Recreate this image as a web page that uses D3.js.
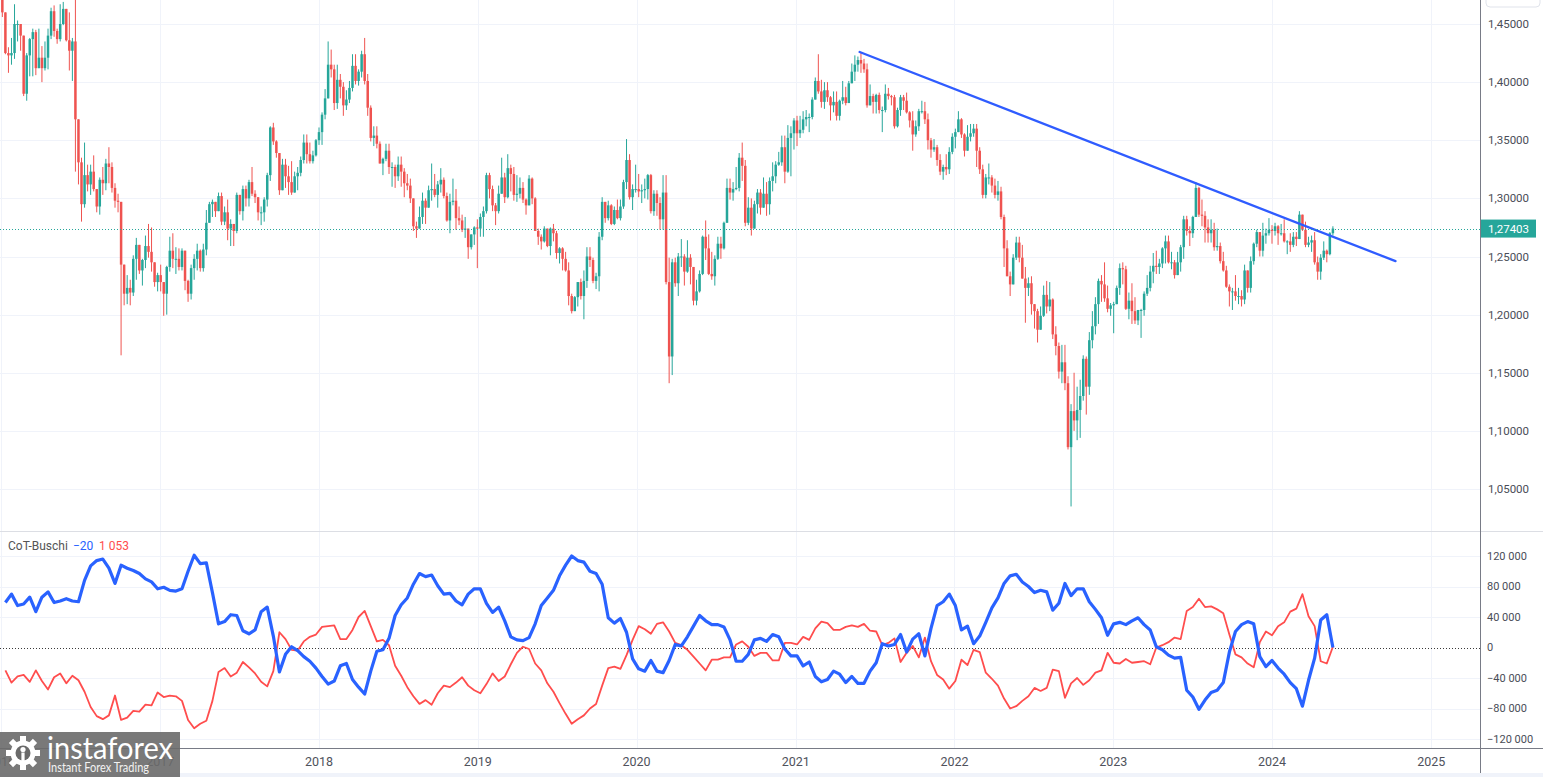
<!DOCTYPE html>
<html>
<head>
<meta charset="utf-8">
<script src="https://cdn.jsdelivr.net/npm/d3@7"></script>
<style>
  html, body { margin: 0; padding: 0; background: #ffffff; }
  svg { display: block; font-family: Roboto, "Liberation Sans", sans-serif; }
</style>
</head>
<body>
<div id="chart"></div>
<script>
// GBP/USD weekly candles, one entry per week starting Monday 2016-01-04.
// open of a week = close of the week before (first open given separately)
const weekStart = "2016-01-04";
const firstOpen = 1.474;

const closes = [
  // 2016
  1.460,1.425,1.423,1.425,1.450,1.450,1.440,1.390,1.423,1.437,1.443,1.412,1.421,1.412,1.421,1.440,1.461,1.444,1.437,1.450,1.463,1.436,1.427,1.435,1.368,1.331,1.295,1.320,1.312,1.323,1.308,1.293,1.316,1.313,1.330,1.327,1.309,1.298,1.297,1.243,1.218,1.223,1.219,1.248,1.260,1.238,1.247,1.259,1.254,1.245,1.228,1.234,
  // 2017
  1.228,1.218,1.241,1.255,1.248,1.248,1.241,1.255,1.229,1.218,1.240,1.248,1.255,1.240,1.256,1.279,1.295,1.297,1.289,1.302,1.280,1.288,1.274,1.278,1.272,1.303,1.289,1.308,1.300,1.314,1.304,1.301,1.288,1.288,1.299,1.320,1.361,1.349,1.339,1.307,1.329,1.319,1.314,1.305,1.319,1.322,1.333,1.348,1.338,1.332,1.337,1.350,
  // 2018
  1.357,1.372,1.386,1.415,1.411,1.382,1.402,1.396,1.380,1.385,1.395,1.414,1.401,1.409,1.424,1.401,1.378,1.352,1.354,1.347,1.330,1.334,1.341,1.327,1.327,1.319,1.329,1.323,1.313,1.311,1.300,1.276,1.274,1.284,1.298,1.292,1.307,1.308,1.303,1.312,1.316,1.302,1.281,1.297,1.298,1.283,1.281,1.273,1.274,1.258,1.269,1.275,1.274,
  // 2019
  1.284,1.289,1.320,1.308,1.294,1.289,1.304,1.318,1.301,1.326,1.321,1.303,1.304,1.309,1.299,1.294,1.317,1.300,1.272,1.267,1.263,1.274,1.259,1.274,1.270,1.253,1.257,1.248,1.238,1.216,1.203,1.215,1.228,1.216,1.229,1.250,1.247,1.229,1.233,1.267,1.297,1.283,1.294,1.278,1.290,1.283,1.293,1.314,1.333,1.301,1.308,1.308,
  // 2020
  1.306,1.307,1.308,1.320,1.289,1.304,1.296,1.282,1.305,1.228,1.164,1.245,1.227,1.250,1.250,1.237,1.249,1.241,1.212,1.220,1.235,1.267,1.257,1.235,1.233,1.248,1.261,1.257,1.279,1.309,1.305,1.308,1.309,1.335,1.328,1.279,1.292,1.274,1.295,1.305,1.292,1.304,1.295,1.315,1.319,1.329,1.331,1.344,1.323,1.352,1.356,1.367,
  // 2021
  1.356,1.359,1.368,1.370,1.370,1.385,1.401,1.392,1.383,1.393,1.387,1.380,1.383,1.371,1.384,1.387,1.382,1.399,1.409,1.415,1.419,1.416,1.411,1.380,1.388,1.383,1.389,1.376,1.376,1.390,1.388,1.387,1.362,1.376,1.387,1.384,1.374,1.367,1.355,1.362,1.375,1.375,1.368,1.350,1.342,1.344,1.333,1.323,1.327,1.325,1.340,1.353,
  // 2022
  1.357,1.368,1.355,1.341,1.353,1.356,1.360,1.341,1.325,1.303,1.318,1.318,1.311,1.303,1.306,1.284,1.257,1.233,1.226,1.249,1.262,1.249,1.231,1.223,1.227,1.209,1.203,1.187,1.199,1.217,1.207,1.213,1.183,1.173,1.151,1.159,1.141,1.086,1.117,1.109,1.118,1.130,1.162,1.138,1.178,1.190,1.209,1.229,1.226,1.214,1.205,1.208,
  // 2023
  1.209,1.223,1.240,1.239,1.205,1.212,1.203,1.195,1.204,1.204,1.218,1.223,1.237,1.242,1.241,1.244,1.257,1.263,1.245,1.245,1.234,1.245,1.258,1.282,1.272,1.270,1.284,1.309,1.286,1.285,1.275,1.270,1.273,1.258,1.259,1.246,1.238,1.224,1.220,1.220,1.216,1.216,1.213,1.238,1.223,1.246,1.261,1.271,1.255,1.268,1.270,1.273,
  // 2024
  1.272,1.276,1.270,1.270,1.263,1.263,1.260,1.267,1.265,1.286,1.273,1.260,1.262,1.264,1.245,1.237,1.249,1.255,1.252,1.270,1.27403
];

const highs = [
  1.475,1.453,1.430,1.438,1.467,1.453,1.445,1.440,1.425,1.438,1.446,1.445,1.446,1.431,1.435,1.446,1.464,1.466,1.446,1.467,1.469,1.463,1.460,1.438,1.502,1.353,1.335,1.348,1.329,1.329,1.337,1.308,1.318,1.327,1.334,1.344,1.331,1.313,1.304,1.297,1.239,1.234,1.230,1.251,1.266,1.259,1.248,1.268,1.278,1.275,1.243,1.236,
  1.243,1.225,1.242,1.267,1.270,1.258,1.257,1.257,1.255,1.230,1.243,1.252,1.261,1.256,1.261,1.290,1.297,1.299,1.297,1.305,1.305,1.293,1.299,1.282,1.276,1.305,1.303,1.311,1.311,1.316,1.327,1.307,1.300,1.293,1.301,1.322,1.362,1.365,1.350,1.338,1.334,1.334,1.328,1.332,1.323,1.327,1.336,1.355,1.355,1.348,1.341,1.351,
  1.361,1.374,1.394,1.435,1.428,1.415,1.415,1.407,1.400,1.393,1.401,1.424,1.424,1.411,1.427,1.438,1.407,1.380,1.362,1.362,1.349,1.335,1.347,1.347,1.331,1.329,1.336,1.336,1.326,1.321,1.317,1.300,1.280,1.293,1.305,1.300,1.311,1.330,1.321,1.315,1.326,1.318,1.305,1.304,1.317,1.308,1.293,1.286,1.284,1.267,1.269,1.276,1.282,
  1.287,1.293,1.322,1.322,1.311,1.296,1.311,1.335,1.322,1.338,1.329,1.327,1.320,1.318,1.314,1.300,1.320,1.318,1.301,1.274,1.269,1.276,1.274,1.275,1.278,1.272,1.258,1.258,1.254,1.245,1.218,1.216,1.228,1.231,1.238,1.258,1.258,1.249,1.236,1.271,1.301,1.297,1.298,1.295,1.293,1.299,1.299,1.316,1.351,1.338,1.312,1.329,
  1.321,1.312,1.317,1.321,1.321,1.307,1.307,1.301,1.320,1.320,1.249,1.248,1.249,1.253,1.265,1.252,1.264,1.252,1.236,1.230,1.238,1.268,1.281,1.269,1.254,1.251,1.267,1.267,1.280,1.317,1.317,1.314,1.327,1.339,1.348,1.333,1.301,1.300,1.298,1.308,1.308,1.318,1.314,1.318,1.331,1.332,1.340,1.354,1.354,1.363,1.362,1.369,
  1.371,1.371,1.375,1.376,1.373,1.387,1.404,1.424,1.402,1.400,1.400,1.388,1.392,1.392,1.385,1.401,1.396,1.401,1.416,1.423,1.422,1.425,1.420,1.416,1.398,1.390,1.390,1.391,1.379,1.398,1.395,1.389,1.389,1.378,1.389,1.389,1.391,1.375,1.375,1.367,1.377,1.384,1.383,1.373,1.352,1.351,1.346,1.338,1.329,1.338,1.344,1.356,
  1.360,1.375,1.369,1.356,1.363,1.364,1.364,1.364,1.344,1.329,1.321,1.330,1.320,1.317,1.315,1.310,1.286,1.264,1.237,1.252,1.267,1.267,1.260,1.241,1.232,1.233,1.208,1.205,1.207,1.225,1.229,1.228,1.214,1.190,1.176,1.174,1.174,1.147,1.123,1.150,1.138,1.144,1.165,1.164,1.185,1.203,1.215,1.231,1.234,1.245,1.225,1.210,
  1.211,1.225,1.244,1.245,1.242,1.219,1.227,1.215,1.204,1.205,1.220,1.234,1.242,1.253,1.255,1.248,1.258,1.268,1.268,1.254,1.247,1.254,1.260,1.285,1.285,1.276,1.285,1.314,1.310,1.299,1.289,1.282,1.282,1.279,1.274,1.262,1.254,1.242,1.226,1.223,1.234,1.223,1.221,1.243,1.236,1.250,1.262,1.273,1.264,1.279,1.274,1.283,
  1.277,1.279,1.277,1.278,1.282,1.264,1.270,1.271,1.271,1.289,1.284,1.280,1.267,1.268,1.271,1.250,1.252,1.263,1.256,1.271,1.276
];

const lows = [
  1.456,1.424,1.408,1.415,1.420,1.435,1.427,1.388,1.384,1.405,1.405,1.406,1.412,1.400,1.410,1.411,1.437,1.439,1.433,1.435,1.449,1.435,1.410,1.401,1.323,1.312,1.280,1.292,1.306,1.303,1.306,1.288,1.286,1.303,1.307,1.313,1.305,1.292,1.288,1.165,1.208,1.209,1.208,1.216,1.230,1.235,1.225,1.240,1.249,1.237,1.224,1.220,
  1.220,1.199,1.200,1.237,1.240,1.235,1.238,1.238,1.221,1.211,1.213,1.230,1.238,1.237,1.237,1.251,1.279,1.284,1.284,1.289,1.277,1.277,1.264,1.259,1.259,1.270,1.286,1.281,1.293,1.293,1.302,1.296,1.281,1.277,1.280,1.293,1.315,1.346,1.335,1.303,1.312,1.309,1.303,1.303,1.305,1.307,1.319,1.330,1.330,1.330,1.330,1.336,
  1.346,1.346,1.368,1.388,1.404,1.376,1.377,1.386,1.371,1.376,1.382,1.392,1.398,1.397,1.404,1.398,1.371,1.349,1.345,1.343,1.330,1.320,1.332,1.321,1.310,1.309,1.315,1.310,1.301,1.307,1.296,1.272,1.266,1.274,1.278,1.278,1.292,1.298,1.301,1.292,1.305,1.300,1.280,1.270,1.294,1.273,1.277,1.271,1.266,1.248,1.256,1.260,1.240,
  1.267,1.267,1.287,1.300,1.289,1.277,1.287,1.305,1.296,1.300,1.306,1.298,1.297,1.300,1.296,1.286,1.297,1.295,1.272,1.260,1.256,1.262,1.258,1.251,1.263,1.248,1.244,1.238,1.237,1.208,1.201,1.203,1.207,1.213,1.196,1.223,1.241,1.227,1.222,1.220,1.264,1.279,1.281,1.277,1.277,1.282,1.281,1.291,1.308,1.299,1.290,1.305,
  1.301,1.296,1.300,1.299,1.287,1.285,1.285,1.273,1.273,1.226,1.141,1.148,1.224,1.216,1.241,1.225,1.236,1.226,1.208,1.208,1.219,1.234,1.247,1.234,1.230,1.225,1.247,1.248,1.256,1.279,1.299,1.298,1.307,1.306,1.315,1.276,1.277,1.268,1.275,1.287,1.286,1.292,1.285,1.286,1.306,1.313,1.328,1.328,1.313,1.322,1.319,1.342,
  1.345,1.352,1.356,1.362,1.357,1.368,1.385,1.390,1.378,1.377,1.383,1.367,1.374,1.367,1.367,1.381,1.380,1.382,1.399,1.401,1.409,1.408,1.408,1.378,1.380,1.373,1.373,1.373,1.357,1.374,1.385,1.380,1.360,1.361,1.371,1.376,1.373,1.361,1.341,1.353,1.358,1.373,1.364,1.342,1.335,1.340,1.328,1.320,1.316,1.320,1.321,1.338,
  1.343,1.358,1.352,1.336,1.344,1.349,1.353,1.327,1.321,1.300,1.300,1.312,1.305,1.300,1.298,1.282,1.241,1.233,1.216,1.226,1.247,1.245,1.231,1.193,1.216,1.200,1.188,1.176,1.187,1.198,1.201,1.203,1.179,1.165,1.145,1.141,1.135,1.084,1.035,1.100,1.092,1.094,1.126,1.114,1.131,1.171,1.183,1.192,1.211,1.211,1.202,1.199,
  1.184,1.209,1.217,1.226,1.204,1.196,1.192,1.192,1.191,1.180,1.199,1.216,1.220,1.227,1.235,1.235,1.240,1.244,1.244,1.239,1.231,1.234,1.237,1.248,1.268,1.259,1.266,1.284,1.284,1.276,1.262,1.262,1.262,1.255,1.255,1.244,1.237,1.223,1.207,1.204,1.212,1.209,1.207,1.209,1.219,1.219,1.243,1.258,1.250,1.250,1.261,1.268,
  1.261,1.268,1.260,1.268,1.262,1.252,1.254,1.258,1.259,1.265,1.272,1.258,1.258,1.254,1.243,1.230,1.230,1.247,1.245,1.251,1.268
];

// descending trendline drawn on the price pane
const trendDates = ["2021-05-28", "2024-10-11"];
const trendPrices = [1.4259, 1.2460];

// CoT-Buschi net positions (thousands of contracts), one point every 2 weeks from 2016-01-11
const cotStart = "2016-01-11";
const cotBlue = [
  59,70,55,57,66,47,66,73,59,61,64,61,60,88,107,114,116,104,84,108,104,101,97,90,86,77,79,75,74,77,
  100,121,110,111,72,31,34,43,42,22,18,23,47,53,15,-32,-9,1,-4,-12,-18,-27,-38,-48,-44,-24,-21,-42,-52,-61,
  -31,-5,-3,12,42,56,65,83,97,93,95,81,70,71,61,56,70,77,77,58,46,53,35,14,10,9,13,31,55,65,
  75,94,108,120,114,112,100,97,83,39,32,38,20,-15,-28,-31,-17,-31,-33,-17,4,2,14,28,42,35,30,30,27,10,
  -18,-18,-9,10,12,8,17,14,-2,-11,-11,-24,-19,-38,-45,-42,-31,-35,-46,-38,-47,-47,-31,-20,5,2,4,17,-6,11,
  18,-11,25,55,60,70,55,23,28,5,15,33,52,65,84,94,96,86,80,72,75,73,49,58,84,68,77,77,60,50,
  39,16,31,33,30,35,39,30,23,1,-3,-10,-14,-13,-56,-65,-81,-69,-59,-56,-46,-6,21,30,34,31,-12,-25,-17,-27,
  -35,-46,-54,-77,-43,-14,36,43,-0.02
];
const cotRed = [
  -30,-46,-38,-36,-45,-30,-44,-55,-39,-34,-47,-37,-43,-58,-78,-90,-94,-89,-63,-95,-92,-83,-84,-75,-76,-59,-65,-63,-64,-70,
  -95,-106,-100,-96,-70,-32,-27,-38,-33,-19,-26,-34,-45,-51,-31,20,11,-3,-4,8,14,17,27,28,29,11,11,23,40,48,
  28,8,10,3,-24,-37,-52,-64,-74,-69,-75,-60,-50,-52,-46,-39,-50,-56,-60,-48,-34,-44,-38,-22,-7,1,-2,-21,-30,-47,
  -58,-73,-87,-100,-94,-89,-80,-74,-50,-27,-25,-28,-10,10,28,24,18,31,33,21,6,3,-3,-12,-21,-30,-16,-16,-13,-13,
  4,8,1,-11,-7,-7,-17,-17,6,6,4,14,10,25,34,32,23,23,27,29,27,31,22,21,3,6,12,-19,-7,2,
  -13,13,-18,-36,-42,-54,-44,-16,-23,-3,-6,-33,-41,-50,-67,-80,-77,-70,-64,-53,-57,-53,-29,-31,-66,-47,-40,-49,-43,-33,
  -30,-7,-20,-21,-15,-20,-19,-18,-22,0,3,7,13,11,48,53,64,53,54,50,45,17,-9,-13,-21,-26,7,21,16,28,
  33,47,51,70,41,28,-18,-21,1.053
];

// axis ticks
const priceTicks = [1.05, 1.10, 1.15, 1.20, 1.25, 1.30, 1.35, 1.40, 1.45];
const cotTicks = [-120, -80, -40, 0, 40, 80, 120];
const yearTicks = [2016, 2017, 2018, 2019, 2020, 2021, 2022, 2023, 2024, 2025];

var width = 1543, height = 777;
var plotRight = 1480;
var pricePane = {top: 0, bottom: 531};
var cotPane = {top: 532, bottom: 748};
var upColor = "#26a69a", downColor = "#ef5350";
var blueColor = "#2962ff", redColor = "#ff4d4d";
var gridColor = "#f0f3fa", axisColor = "#787b86", labelColor = "#4a4d57";

var DAY = 864e5;
function parseDay(s){ return new Date(s + "T00:00:00Z"); }

// comma decimals and spaced thousands like the platform shows
var locale = d3.formatLocale({decimal: ",", thousands: " ", grouping: [3], currency: ["", ""], minus: "\u2212"});
var fmtPrice = locale.format(".5f");
var fmtCot = locale.format(",.0f");

var svg = d3.select("#chart").append("svg")
    .attr("width", width)
    .attr("height", height);

svg.append("rect").attr("width", width).attr("height", height).attr("fill", "#ffffff");

// scales
var x = d3.scaleUtc()
    .domain([parseDay("2018-01-01"), parseDay("2024-01-01")])
    .range([319, 1272]);
var yPrice = d3.scaleLinear().domain([1.05, 1.45]).range([489, 24]);
var yCot = d3.scaleLinear().domain([-120, 120]).range([739, 556]);

var defs = svg.append("defs");
defs.append("clipPath").attr("id", "clipPrice").append("rect")
    .attr("x", 0).attr("y", pricePane.top).attr("width", plotRight).attr("height", pricePane.bottom - pricePane.top);
defs.append("clipPath").attr("id", "clipCot").append("rect")
    .attr("x", 0).attr("y", cotPane.top).attr("width", plotRight).attr("height", cotPane.bottom - cotPane.top);

var yearDates = yearTicks.map(function(yr){ return new Date(Date.UTC(yr, 0, 1)); });

//grid lines for both panes
var grid = svg.append("g").attr("class", "grid");
[pricePane, cotPane].forEach(function(p){
    grid.selectAll(null).data(yearDates).enter().append("line")
        .attr("x1", function(d){ return Math.round(x(d)) + 0.5; })
        .attr("x2", function(d){ return Math.round(x(d)) + 0.5; })
        .attr("y1", p.top).attr("y2", p.bottom)
        .attr("stroke", gridColor);
});
grid.selectAll(null).data(priceTicks).enter().append("line")
    .attr("x1", 0).attr("x2", plotRight)
    .attr("y1", function(d){ return Math.round(yPrice(d)) + 0.5; })
    .attr("y2", function(d){ return Math.round(yPrice(d)) + 0.5; })
    .attr("stroke", gridColor);
grid.selectAll(null).data(cotTicks.filter(function(d){ return d != 0; })).enter().append("line")
    .attr("x1", 0).attr("x2", plotRight)
    .attr("y1", function(d){ return Math.round(yCot(d)) + 0.5; })
    .attr("y2", function(d){ return Math.round(yCot(d)) + 0.5; })
    .attr("stroke", gridColor);

// candles
var candles = closes.map(function(c, i){
    var o = i == 0 ? firstOpen : closes[i - 1];
    return {
        date: new Date(parseDay(weekStart).getTime() + i * 7 * DAY),
        open: o, close: c,
        high: Math.max(highs[i], o, c),
        low: Math.min(lows[i], o, c)
    };
});

var priceG = svg.append("g").attr("clip-path", "url(#clipPrice)");
var candleG = priceG.selectAll("g.candle").data(candles).enter().append("g").attr("class", "candle");
candleG.append("line")
    .attr("x1", function(d){ return x(d.date); })
    .attr("x2", function(d){ return x(d.date); })
    .attr("y1", function(d){ return yPrice(d.high); })
    .attr("y2", function(d){ return yPrice(d.low); })
    .attr("stroke", function(d){ return d.close >= d.open ? upColor : downColor; })
    .attr("stroke-width", 1);
candleG.append("rect")
    .attr("x", function(d){ return x(d.date) - 1.25; })
    .attr("width", 2.5)
    .attr("y", function(d){ return yPrice(Math.max(d.open, d.close)); })
    .attr("height", function(d){ return Math.max(1, Math.abs(yPrice(d.open) - yPrice(d.close))); })
    .attr("fill", function(d){ return d.close >= d.open ? upColor : downColor; });

// trendline
var trendPts = trendDates.map(function(d, i){ return [x(parseDay(d)), yPrice(trendPrices[i])]; });
priceG.append("path")
    .attr("d", d3.line()(trendPts))
    .attr("fill", "none")
    .attr("stroke", "#2f5cff")
    .attr("stroke-width", 2.3)
    .attr("stroke-linecap", "round");

// last price dotted line
var lastClose = closes[closes.length - 1];
priceG.append("line")
    .attr("x1", 0).attr("x2", plotRight)
    .attr("y1", Math.round(yPrice(lastClose)) + 0.5)
    .attr("y2", Math.round(yPrice(lastClose)) + 0.5)
    .attr("stroke", upColor)
    .attr("stroke-dasharray", "1,2");

// CoT pane
var cotG = svg.append("g").attr("clip-path", "url(#clipCot)");
cotG.append("line")
    .attr("x1", 0).attr("x2", plotRight)
    .attr("y1", Math.round(yCot(0)) + 0.5).attr("y2", Math.round(yCot(0)) + 0.5)
    .attr("stroke", "#3a3a3a")
    .attr("stroke-dasharray", "1,2");

var cotLine = d3.line()
    .x(function(d, i){ return x(new Date(parseDay(cotStart).getTime() + i * 14 * DAY)); })
    .y(function(d){ return yCot(d); });

cotG.append("path")
    .attr("d", cotLine(cotRed))
    .attr("fill", "none")
    .attr("stroke", redColor)
    .attr("stroke-width", 1.8)
    .attr("stroke-linejoin", "round");
cotG.append("path")
    .attr("d", cotLine(cotBlue))
    .attr("fill", "none")
    .attr("stroke", blueColor)
    .attr("stroke-width", 3.2)
    .attr("stroke-linejoin", "round");

// legend of the indicator
var legend = svg.append("g").attr("font-size", 12);
legend.append("text").attr("x", 8).attr("y", 550).attr("fill", "#555").text("CoT-Buschi");
legend.append("text").attr("x", 73).attr("y", 550).attr("fill", blueColor)
    .text(fmtCot(cotBlue[cotBlue.length - 1] * 1000));
legend.append("text").attr("x", 99).attr("y", 550).attr("fill", redColor)
    .text(fmtCot(cotRed[cotRed.length - 1] * 1000));

// pane separators and axis borders
svg.append("line").attr("x1", 0).attr("x2", width).attr("y1", 531.5).attr("y2", 531.5).attr("stroke", "#dcdee4");
svg.append("line").attr("x1", plotRight + 0.5).attr("x2", plotRight + 0.5).attr("y1", 0).attr("y2", height).attr("stroke", axisColor);
svg.append("line").attr("x1", 0).attr("x2", width).attr("y1", 748.5).attr("y2", 748.5).attr("stroke", axisColor);
svg.append("rect").attr("x", 0).attr("y", 773).attr("width", width).attr("height", 4).attr("fill", "#f0f3fa");
svg.append("rect").attr("x", 1486).attr("y", -8).attr("width", 54).attr("height", 15).attr("rx", 4)
    .attr("fill", "#fff").attr("stroke", "#e0e3eb");

// price axis labels
svg.append("g").selectAll("text").data(priceTicks).enter().append("text")
    .attr("x", 1488)
    .attr("y", function(d){ return yPrice(d); })
    .attr("dy", "0.35em")
    .attr("font-size", 11.5)
    .attr("fill", labelColor)
    .text(function(d){ return fmtPrice(d); });

// last price tag
var tagY = yPrice(lastClose);
svg.append("rect").attr("x", 1481).attr("y", tagY - 9).attr("width", 55).attr("height", 18).attr("fill", upColor);
svg.append("text").attr("x", 1488).attr("y", tagY).attr("dy", "0.35em")
    .attr("font-size", 11.5).attr("fill", "#fff").text(fmtPrice(lastClose));

// cot axis labels
svg.append("g").selectAll("text").data(cotTicks).enter().append("text")
    .attr("x", 1487)
    .attr("y", function(d){ return yCot(d); })
    .attr("dy", "0.35em")
    .attr("font-size", 11)
    .attr("fill", labelColor)
    .text(function(d){ return fmtCot(d * 1000); });

// time axis labels
svg.append("g").selectAll("text").data(yearDates).enter().append("text")
    .attr("x", function(d){ return x(d); })
    .attr("y", 762)
    .attr("dy", "0.35em")
    .attr("text-anchor", "middle")
    .attr("font-size", 12.5)
    .attr("fill", "#4f525c")
    .text(function(d){ return d.getUTCFullYear(); });

// instaforex watermark (semi transparent, the axis years show through it)
var logo = svg.append("g").attr("transform", "translate(0,732)");
logo.append("rect").attr("width", 180).attr("height", 45).attr("fill", "#6a6a6a").attr("opacity", 0.9);
var gear = logo.append("g").attr("transform", "translate(23,21)").attr("fill", "#fff");
d3.range(8).forEach(function(k){
    gear.append("rect").attr("x", -3).attr("y", -17).attr("width", 6).attr("height", 7)
        .attr("transform", "rotate(" + (k * 45) + ")");
});
gear.append("circle").attr("r", 12.5);
gear.append("circle").attr("r", 7.5).attr("fill", "#6a6a6a");
gear.append("circle").attr("cy", -3.5).attr("r", 2.6);
gear.append("rect").attr("x", -1.6).attr("y", -0.5).attr("width", 3.2).attr("height", 12);
logo.append("text").attr("x", 47).attr("y", 27)
    .attr("font-family", "Lato, 'Open Sans', sans-serif").attr("font-size", 30)
    .attr("textLength", 126).attr("lengthAdjust", "spacingAndGlyphs")
    .attr("fill", "#fff").text("instaforex");
logo.append("text").attr("x", 48).attr("y", 40)
    .attr("font-family", "Lato, 'Open Sans', sans-serif").attr("font-size", 13)
    .attr("textLength", 101).attr("lengthAdjust", "spacingAndGlyphs")
    .attr("fill", "#f2f2f2").text("Instant Forex Trading");
</script>
</body>
</html>
